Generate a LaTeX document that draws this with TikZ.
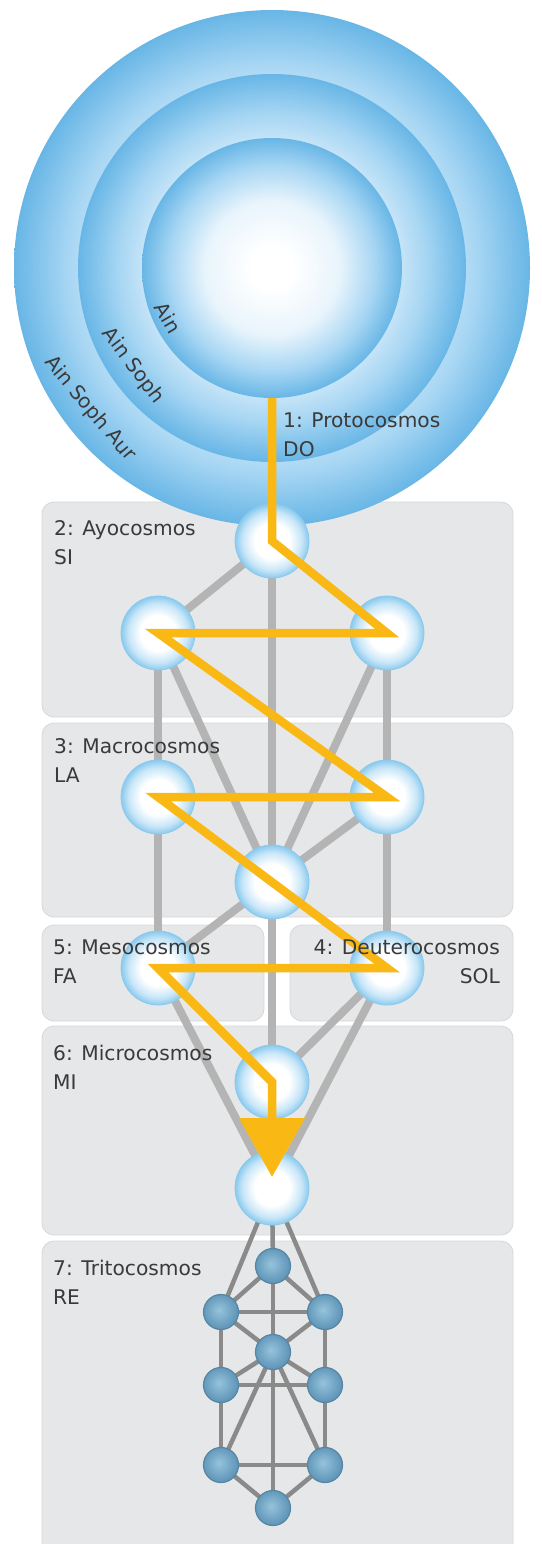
\documentclass[tikz,border=0pt]{standalone}
\usepackage{fontspec}
\setmainfont{DejaVu Sans}
\usetikzlibrary{arrows.meta}
\definecolor{sky}{RGB}{104,182,230}
\definecolor{skymid}{RGB}{165,213,243}
\definecolor{skylight}{RGB}{232,244,252}
\definecolor{nodeblue}{RGB}{138,202,238}
\definecolor{nodemid}{RGB}{200,230,248}
\definecolor{panelgray}{RGB}{230,231,232}
\definecolor{paneledge}{RGB}{214,215,217}
\definecolor{pathgray}{RGB}{180,180,180}
\definecolor{smallgray}{RGB}{138,138,138}
\definecolor{gold}{RGB}{249,184,20}
\definecolor{labelgray}{RGB}{58,58,58}
\definecolor{smallfillA}{RGB}{150,195,220}
\definecolor{smallfillB}{RGB}{96,150,184}
\definecolor{smalledge}{RGB}{86,134,164}
\pgfdeclareradialshading{spherebig}{\pgfpoint{0bp}{0bp}}{color(0bp)=(white); color(4bp)=(white); color(13bp)=(skylight); color(20bp)=(skymid); color(25bp)=(sky); color(50bp)=(sky)}
\pgfdeclareradialshading{bubble}{\pgfpoint{0bp}{0bp}}{color(0bp)=(white); color(12bp)=(white); color(20bp)=(nodemid); color(25bp)=(nodeblue); color(50bp)=(nodeblue)}
\pgfdeclareradialshading{smallball}{\pgfpoint{-3bp}{3bp}}{color(0bp)=(smallfillA); color(25bp)=(smallfillB); color(50bp)=(smallfillB)}
\tikzset{
  bignode/.style={circle, minimum size=74pt, inner sep=0pt, shading=bubble, draw=nodeblue, line width=0.8pt},
  smallnode/.style={circle, minimum size=35pt, inner sep=0pt, shading=smallball, draw=smalledge, line width=1.2pt},
  sphere/.style={circle, inner sep=0pt, shading=spherebig},
  panel/.style={fill=panelgray, draw=paneledge, line width=0.8pt, rounded corners=12pt},
  treepath/.style={draw=pathgray, line width=8pt},
  subpath/.style={draw=smallgray, line width=4.5pt},
  zigzag/.style={draw=gold, line width=8.5pt, line join=miter, -{Triangle[length=59pt,width=64pt]}},
  cosmos/.style={font=\fontsize{20.2}{29}\selectfont, text=labelgray, inner sep=0pt, align=left, anchor=north west},
  ringlabel/.style={font=\fontsize{20}{22}\selectfont, text=labelgray, inner sep=0pt},
}
\begin{document}
\begin{tikzpicture}[x=1pt, y=-1pt]
\useasboundingbox (0,0) rectangle (541,1544);
\clip (0,0) rectangle (541,1544);
% panels
\path[panel] (42,502) rectangle (513,717);
\path[panel] (42,723) rectangle (513,917);
\path[panel] (42,925) rectangle (264,1021);
\path[panel] (290,925) rectangle (513,1021);
\path[panel] (42,1026) rectangle (513,1235);
\path[panel] (42,1241) rectangle (513,1570);
% concentric spheres
\node[sphere, minimum size=516pt] (aur) at (272,268) {};
\node[sphere, minimum size=388pt] (soph) at (272,268) {};
\node[sphere, minimum size=260pt] (ain) at (272,268) {};
% tree coordinates
\coordinate (p1) at (272,541);
\coordinate (p2) at (158,633);
\coordinate (p3) at (387,633);
\coordinate (p4) at (158,797);
\coordinate (p5) at (387,797);
\coordinate (p6) at (272,882);
\coordinate (p7) at (158,968);
\coordinate (p8) at (387,968);
\coordinate (p9) at (272,1082);
\coordinate (p10) at (272,1188);
% upper tree paths
\foreach \a/\b in {p1/p2,p1/p3,p1/p6,p2/p4,p4/p7,p3/p5,p5/p8,p2/p6,p3/p6,p5/p6,p6/p7,p6/p9,p8/p9,p7/p10,p8/p10,p9/p10}
  \draw[treepath] (\a) -- (\b);
% small tree coordinates
\coordinate (s1) at (273,1266);
\coordinate (s2) at (221,1312);
\coordinate (s3) at (325,1312);
\coordinate (s4) at (273,1352);
\coordinate (s5) at (221,1385);
\coordinate (s6) at (325,1385);
\coordinate (s7) at (221,1465);
\coordinate (s8) at (325,1465);
\coordinate (s9) at (273,1508);
\foreach \a/\b in {p10/s1,p10/s2,p10/s3,s1/s2,s1/s3,s1/s4,s2/s3,s2/s4,s3/s4,s2/s5,s5/s7,s3/s6,s6/s8,s5/s6,s4/s5,s4/s6,s4/s7,s4/s8,s4/s9,s7/s8,s7/s9,s8/s9}
  \draw[subpath] (\a) -- (\b);
% big nodes
\foreach \n in {1,...,10}
  \node[bignode] (n\n) at (p\n) {};
% small nodes
\foreach \n in {1,...,9}
  \node[smallnode] (m\n) at (s\n) {};
% yellow zig-zag
\coordinate (arrowtip) at (272,1177);
\draw[zigzag] (ain.south) -- (n1.center) -- (n3.center) -- (n2.center) -- (n5.center) -- (n4.center) -- (n8.center) -- (n7.center) -- (n9.center) -- (arrowtip);
% ring labels
\node[ringlabel, rotate=-60] (lain) at (168,318) {Ain};
\node[ringlabel, rotate=-53] (lsoph) at (133,366) {Ain Soph};
\node[ringlabel, rotate=-50] (laur) at (90,409) {Ain Soph Aur};
% cosmos labels
\node[cosmos] (c1) at (283,413) {1: Protocosmos\\DO};
\node[cosmos] (c2) at (54,520) {2: Ayocosmos\\SI};
\node[cosmos] (c3) at (54,738) {3: Macrocosmos\\LA};
\node[cosmos] (c5) at (53,940) {5: Mesocosmos\\FA};
\node[cosmos, align=right, anchor=north east] (c4) at (500,940) {4: Deuterocosmos\\SOL};
\node[cosmos] (c6) at (53,1045) {6: Microcosmos\\MI};
\node[cosmos] (c7) at (53,1260) {7: Tritocosmos\\RE};
\end{tikzpicture}
\end{document}
